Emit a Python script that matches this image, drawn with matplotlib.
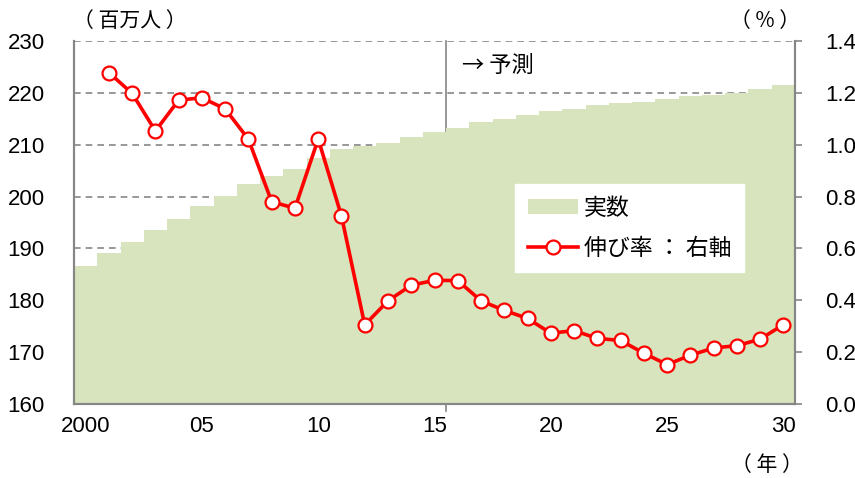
import matplotlib.pyplot as plt
import numpy as np

plt.rcParams['font.family'] = ['Liberation Sans', 'Noto Sans CJK JP']

# ------------------ DATA ------------------
years = list(range(2000, 2031))
population = [186.7, 189.2, 191.3, 193.5, 195.7, 198.2, 200.2, 202.4, 204.0, 205.4,
              207.5, 209.1, 209.8, 210.3, 211.5, 212.5, 213.2, 214.3, 215.0, 215.7,
              216.5, 216.8, 217.6, 218.0, 218.3, 218.8, 219.4, 219.6, 220.0, 220.7,
              221.5]
growth_years = list(range(2001, 2031))
growth = [1.278, 1.198, 1.053, 1.172, 1.181, 1.138, 1.021, 0.780, 0.755, 1.022,
          0.725, 0.305, 0.398, 0.458, 0.477, 0.476, 0.398, 0.361, 0.330, 0.273,
          0.283, 0.253, 0.245, 0.196, 0.152, 0.188, 0.216, 0.225, 0.250, 0.306]
tick_years = [2000, 2005, 2010, 2015, 2020, 2025, 2030]
tick_labels = ['2000', '05', '10', '15', '20', '25', '30']
forecast_start = 2016
# ------------------------------------------

fig = plt.figure(figsize=(8.55, 4.78), dpi=100)
ax = fig.add_axes([74 / 855, 74 / 478, 721 / 855, 363 / 478])
ax2 = ax.twinx()

fs = 16
cjk = ['Noto Sans CJK JP', 'Liberation Sans']
gray = '#868686'

# bars (left axis)
ax.bar(years, population, width=1.0, color='#D7E4BD', zorder=2, label='実数')
ax.set_ylim(160, 230)
ax.set_yticks(np.arange(160, 231, 10))
ax.set_xlim(years[0] - 0.5, years[-1] + 0.5)
ax.set_xticks(tick_years)
ax.set_xticklabels(tick_labels)
ax.tick_params(axis='y', length=0, pad=21, labelsize=fs)
ax.tick_params(axis='x', length=0, pad=9, labelsize=fs)
for y in np.arange(170, 231, 10):
    ax.axhline(y, color=gray, lw=1.2, ls=(0, (4, 3)), zorder=1)

# forecast divider
ax.plot([forecast_start - 0.5] * 2, [-0.02, 1], transform=ax.get_xaxis_transform(),
        color=gray, lw=1.2, zorder=1, clip_on=False)
ax.text(forecast_start + 0.2, 225.3, '→ 予測', fontsize=fs, va='center', ha='left',
        family=cjk)

for s in ['left', 'right', 'bottom']:
    ax.spines[s].set_color(gray)
    ax.spines[s].set_linewidth(1.5)
ax.spines['top'].set_visible(False)

# growth line (right axis)
ax2.plot(growth_years, growth, color='#FF0000', lw=2.6, marker='o', markersize=10,
         markerfacecolor='white', markeredgecolor='#FF0000', markeredgewidth=1.6,
         zorder=5, label='伸び率：右軸')
ax2.set_ylim(0, 1.4)
ax2.set_yticks(np.arange(0, 1.41, 0.2))
ax2.set_yticklabels([f'{v:.1f}' for v in np.arange(0, 1.41, 0.2)])
ax2.tick_params(axis='y', length=5, width=1.2, color=gray, pad=17, labelsize=fs)
for s in ['left', 'right', 'bottom']:
    ax2.spines[s].set_color(gray)
    ax2.spines[s].set_linewidth(1.5)
ax2.spines['top'].set_visible(False)

# legend
h1, l1 = ax.get_legend_handles_labels()
h2, l2 = ax2.get_legend_handles_labels()
leg = ax2.legend(h1 + h2, ['実数', '伸び率 ： 右軸'], loc='upper left',
                 bbox_to_anchor=(441 / 721, (404 - 184) / 363), borderaxespad=0,
                 frameon=True, fancybox=False, edgecolor='white', framealpha=1,
                 prop={'family': cjk, 'size': 16.5},
                 handlelength=2.2, handleheight=0.6, handletextpad=0.25,
                 labelspacing=0.75, borderpad=0.55)

# unit labels
fig.text(130 / 855, 1 - 21 / 478, '（ 百万人 ）', fontsize=fs - 1, ha='center',
         va='center', family=cjk)
fig.text(765 / 855, 1 - 21 / 478, '（ % ）', fontsize=fs - 1, ha='center', va='center',
         family=cjk)
fig.text(767 / 855, 1 - 465 / 478, '（ 年 ）', fontsize=fs - 1, ha='center', va='center',
         family=cjk)

fig.savefig('out.png', dpi=100)
